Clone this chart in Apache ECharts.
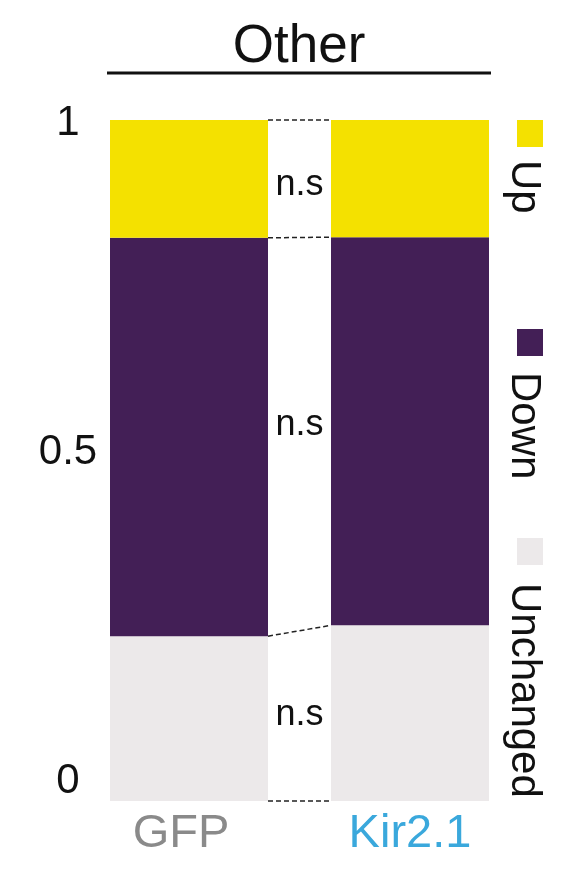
<!DOCTYPE html>
<html lang="en">

<head>
    <meta charset="UTF-8">
    <title>Other</title>
    <script src="https://cdn.jsdelivr.net/npm/echarts@6.0.0/dist/echarts.min.js"></script>
    <style>
        html, body {
            margin: 0;
            padding: 0;
            background: #fff;
        }

        #main {
            width: 584px;
            height: 879px;
        }
    </style>
</head>

<body>
    <div id="main"></div>
    <script>
        // data (fractions of cells)
        const groups = ['GFP', 'Kir2.1'];
        const groupColors = ['#8a8a8a', '#3aa8dc'];
        const unchanged = [0.242, 0.258];
        const down = [0.585, 0.570];
        const up = [0.173, 0.172];
        const yTicks = [0, 0.5, 1];
        const nsLabels = ['n.s', 'n.s', 'n.s'];
        const nsLevels = [0.905, 0.552, 0.126];

        const colors = { Up: '#f4e100', Down: '#431f56', Unchanged: '#ece9ea' };
        const font = 'Liberation Sans, Arial, sans-serif';
        const barWidth = 158;

        // cumulative boundaries for the dashed connectors
        const bounds = [0, 1, 2, 3].map(function (k) {
            const cum = groups.map(function (g, i) {
                const parts = [unchanged[i], down[i], up[i]];
                let s = 0;
                for (let j = 0; j < k; j++) s += parts[j];
                return k === 3 ? 1 : s;
            });
            return [0, cum[0], cum[1]];
        });

        const chart = echarts.init(document.getElementById('main'));

        const hiddenAxis = {
            axisLine: { show: false },
            axisTick: { show: false },
            splitLine: { show: false }
        };

        const option = {
            animation: false,
            grid: [
                { left: 189, right: 174, top: 120, bottom: 78 },
                // tick labels in the figure sit slightly inside the bar range
                { left: 189, right: 174, top: 123, bottom: 98 }
            ],
            xAxis: [
                Object.assign({
                    type: 'category',
                    boundaryGap: false,
                    data: groups.map(function (g, i) {
                        return {
                            value: g,
                            textStyle: { color: groupColors[i], padding: i === 0 ? [0, 16, 0, 0] : 0 }
                        };
                    }),
                    axisLabel: { interval: 0, fontSize: 47, fontFamily: font, margin: 10 }
                }, hiddenAxis),
                Object.assign({ type: 'category', gridIndex: 1, data: groups, axisLabel: { show: false } }, hiddenAxis)
            ],
            yAxis: [
                Object.assign({
                    type: 'value',
                    min: yTicks[0],
                    max: yTicks[yTicks.length - 1],
                    axisLabel: { show: false }
                }, hiddenAxis),
                Object.assign({
                    type: 'value',
                    gridIndex: 1,
                    min: yTicks[0],
                    max: yTicks[yTicks.length - 1],
                    interval: 0.5,
                    axisLabel: { fontSize: 42, fontFamily: font, color: '#111', margin: 121, align: 'center' }
                }, hiddenAxis)
            ],
            legend: {
                orient: 'vertical',
                left: 517,
                top: 120,
                padding: 0,
                itemGap: 182,
                itemWidth: 26,
                itemHeight: 27,
                icon: 'rect',
                data: ['Up', 'Down', 'Unchanged'],
                formatter: function () { return ''; },
                selectedMode: false
            },
            graphic: [
                {
                    type: 'text', x: 299, y: 47,
                    style: { text: 'Other', fontSize: 53, fontFamily: font, fill: '#111', align: 'center', verticalAlign: 'middle' }
                },
                {
                    type: 'line', shape: { x1: 107, y1: 73, x2: 491, y2: 73 },
                    style: { stroke: '#111', lineWidth: 3 }
                },
                {
                    type: 'text', x: 524, y: 160, rotation: -Math.PI / 2,
                    style: { text: 'Up', fontSize: 42, fontFamily: font, fill: '#111', align: 'left', verticalAlign: 'middle' }
                },
                {
                    type: 'text', x: 524, y: 372, rotation: -Math.PI / 2,
                    style: { text: 'Down', fontSize: 42, fontFamily: font, fill: '#111', align: 'left', verticalAlign: 'middle' }
                },
                {
                    type: 'text', x: 524, y: 583, rotation: -Math.PI / 2,
                    style: { text: 'Unchanged', fontSize: 42, fontFamily: font, fill: '#111', align: 'left', verticalAlign: 'middle' }
                }
            ],
            series: [
                {
                    name: 'Unchanged', type: 'bar', stack: 'total', barWidth: barWidth, clip: false,
                    itemStyle: { color: colors.Unchanged }, data: unchanged
                },
                {
                    name: 'Down', type: 'bar', stack: 'total', barWidth: barWidth, clip: false,
                    itemStyle: { color: colors.Down }, data: down
                },
                {
                    name: 'Up', type: 'bar', stack: 'total', barWidth: barWidth, clip: false,
                    itemStyle: { color: colors.Up }, data: up
                },
                {
                    // dashed lines joining matching boundaries of the two bars
                    type: 'custom',
                    encode: { x: 0, y: 1 },
                    data: bounds,
                    renderItem: function (params, api) {
                        const a = api.coord([0, api.value(1)]);
                        const b = api.coord([1, api.value(2)]);
                        return {
                            type: 'line',
                            shape: { x1: a[0] + barWidth / 2, y1: a[1], x2: b[0] - barWidth / 2, y2: b[1] },
                            style: { stroke: '#222', lineWidth: 1.5, lineDash: [5, 3] }
                        };
                    }
                },
                {
                    type: 'custom',
                    encode: { x: 0, y: 1 },
                    data: nsLevels.map(function (v, i) { return [0, v, nsLabels[i]]; }),
                    renderItem: function (params, api) {
                        const a = api.coord([0, api.value(1)]);
                        const b = api.coord([1, api.value(1)]);
                        return {
                            type: 'text',
                            x: (a[0] + b[0]) / 2,
                            y: a[1],
                            style: {
                                text: nsLabels[params.dataIndex], fontSize: 36, fontFamily: font, fill: '#111',
                                align: 'center', verticalAlign: 'middle'
                            }
                        };
                    }
                }
            ]
        };

        chart.setOption(option);

        window.addEventListener('resize', function () {
            chart.resize();
        });
    </script>
</body>

</html>
